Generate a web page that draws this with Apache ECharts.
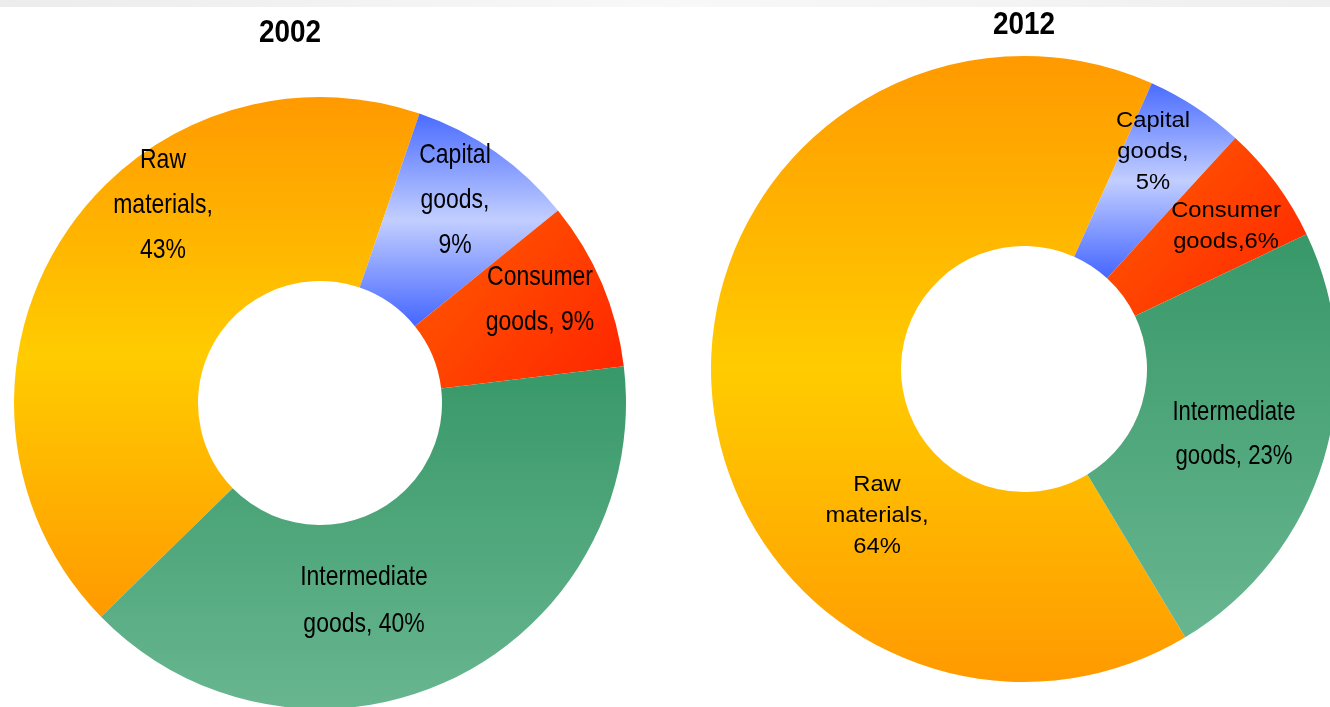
<!DOCTYPE html>
<html>
<head>
<meta charset="utf-8">
<script src="https://cdn.jsdelivr.net/npm/echarts@6/dist/echarts.min.js"></script>
<style>
  html, body { margin: 0; padding: 0; background: #ffffff; }
  #chart { width: 1330px; height: 707px; }
</style>
</head>
<body>
<div id="chart"></div>
<script>
// Import structure by type of good, shares in percent
const categories = ['Raw materials', 'Capital goods', 'Consumer goods', 'Intermediate goods'];
const years = ['2002', '2012'];
const shares2002 = [43, 9, 9, 40];
const shares2012 = [64, 5, 6, 23];

// Separator between "goods," and the value in each label (line break or space)
const valueSep2002 = ['\n', '\n', ' ', ' '];
const valueSep2012 = ['\n', '\n', '', ' '];

// Label anchor points for each slice (center of the text block)
const labelPos2002 = [[163, 205], [455, 200], [540, 300], [364, 601]];
const labelPos2012 = [[877, 516], [1153, 152], [1226, 226], [1234, 435]];

// Geometry of the two rings
const ring2002 = { center: [320, 403], radius: [122, 306], startAngle: -135.7 };
const ring2012 = { center: [1024, 369], radius: [123, 313], startAngle: -59 };

const grad = (stops, x2, y2) => ({
  type: 'linear', x: 0, y: 0, x2: x2, y2: y2,
  colorStops: stops.map(s => ({ offset: s[0], color: s[1] }))
});

// Fill of each category
const fills = [
  grad([[0, '#ff9a00'], [0.5, '#ffcc00'], [1, '#ff9a00']], 0, 1),
  grad([[0, '#4a6cff'], [0.5, '#c2ceff'], [1, '#4466ff']], 0, 1),
  grad([[0, '#ff5e00'], [1, '#ff2400']], 1, 1),
  grad([[0, '#389868'], [1, '#68b690']], 0, 1)
];

const FONT = "'Liberation Sans', Arial, sans-serif";

// Text styles: condensed (horizontally squeezed) and slightly widened
const condensed = { size: 28, lineHeight: 45, scaleX: 0.82 };
const condensedTall = { size: 28, lineHeight: 47, scaleX: 0.82 };
const spaced = { size: 22, lineHeight: 31, scaleX: 1.08 };
const condensedRight = { size: 27, lineHeight: 44, scaleX: 0.82 };

const styles2002 = [condensed, condensed, condensed, condensedTall];
const styles2012 = [spaced, spaced, spaced, condensedRight];

function labelText(name, value, sep) {
  const words = name.split(' ');
  return words[0] + '\n' + words.slice(1).join(' ') + ',' + sep + value + '%';
}

function sliceLabels(values, seps, positions, styles) {
  return categories.map((name, i) => ({
    type: 'text',
    x: positions[i][0],
    y: positions[i][1],
    scaleX: styles[i].scaleX,
    silent: true,
    z: 10,
    style: {
      text: labelText(name, values[i], seps[i]),
      fontFamily: FONT,
      fontSize: styles[i].size,
      lineHeight: styles[i].lineHeight,
      fill: '#000000',
      textAlign: 'center',
      textVerticalAlign: 'middle'
    }
  }));
}

function yearTitle(text, x, y) {
  return {
    type: 'text', x: x, y: y, scaleX: 0.9, silent: true, z: 10,
    style: {
      text: text, fontFamily: FONT, fontWeight: 'bold', fontSize: 31,
      fill: '#000000', textAlign: 'center', textVerticalAlign: 'middle'
    }
  };
}

function ringSeries(year, ring, values) {
  return {
    type: 'pie',
    name: year,
    center: ring.center,
    radius: ring.radius,
    startAngle: ring.startAngle,
    clockwise: true,
    avoidLabelOverlap: false,
    silent: true,
    label: { show: false },
    labelLine: { show: false },
    emphasis: { disabled: true },
    data: categories.map((name, i) => ({
      name: name,
      value: values[i],
      itemStyle: { color: fills[i], borderWidth: 0 }
    }))
  };
}

const option = {
  backgroundColor: '#ffffff',
  animation: false,
  graphic: [
    {
      type: 'rect',
      shape: { x: 0, y: 0, width: 1330, height: 7 },
      silent: true,
      style: {
        fill: {
          type: 'linear', x: 0, y: 0, x2: 1, y2: 0,
          colorStops: [
            { offset: 0, color: '#ececec' },
            { offset: 0.5, color: '#f8f8f8' },
            { offset: 1, color: '#efefef' }
          ]
        }
      }
    },
    yearTitle(years[0], 290, 33),
    yearTitle(years[1], 1024, 25)
  ]
    .concat(sliceLabels(shares2002, valueSep2002, labelPos2002, styles2002))
    .concat(sliceLabels(shares2012, valueSep2012, labelPos2012, styles2012)),
  series: [
    ringSeries(years[0], ring2002, shares2002),
    ringSeries(years[1], ring2012, shares2012)
  ]
};

const chart = echarts.init(document.getElementById('chart'), null, { renderer: 'canvas' });
chart.setOption(option);
</script>
</body>
</html>
